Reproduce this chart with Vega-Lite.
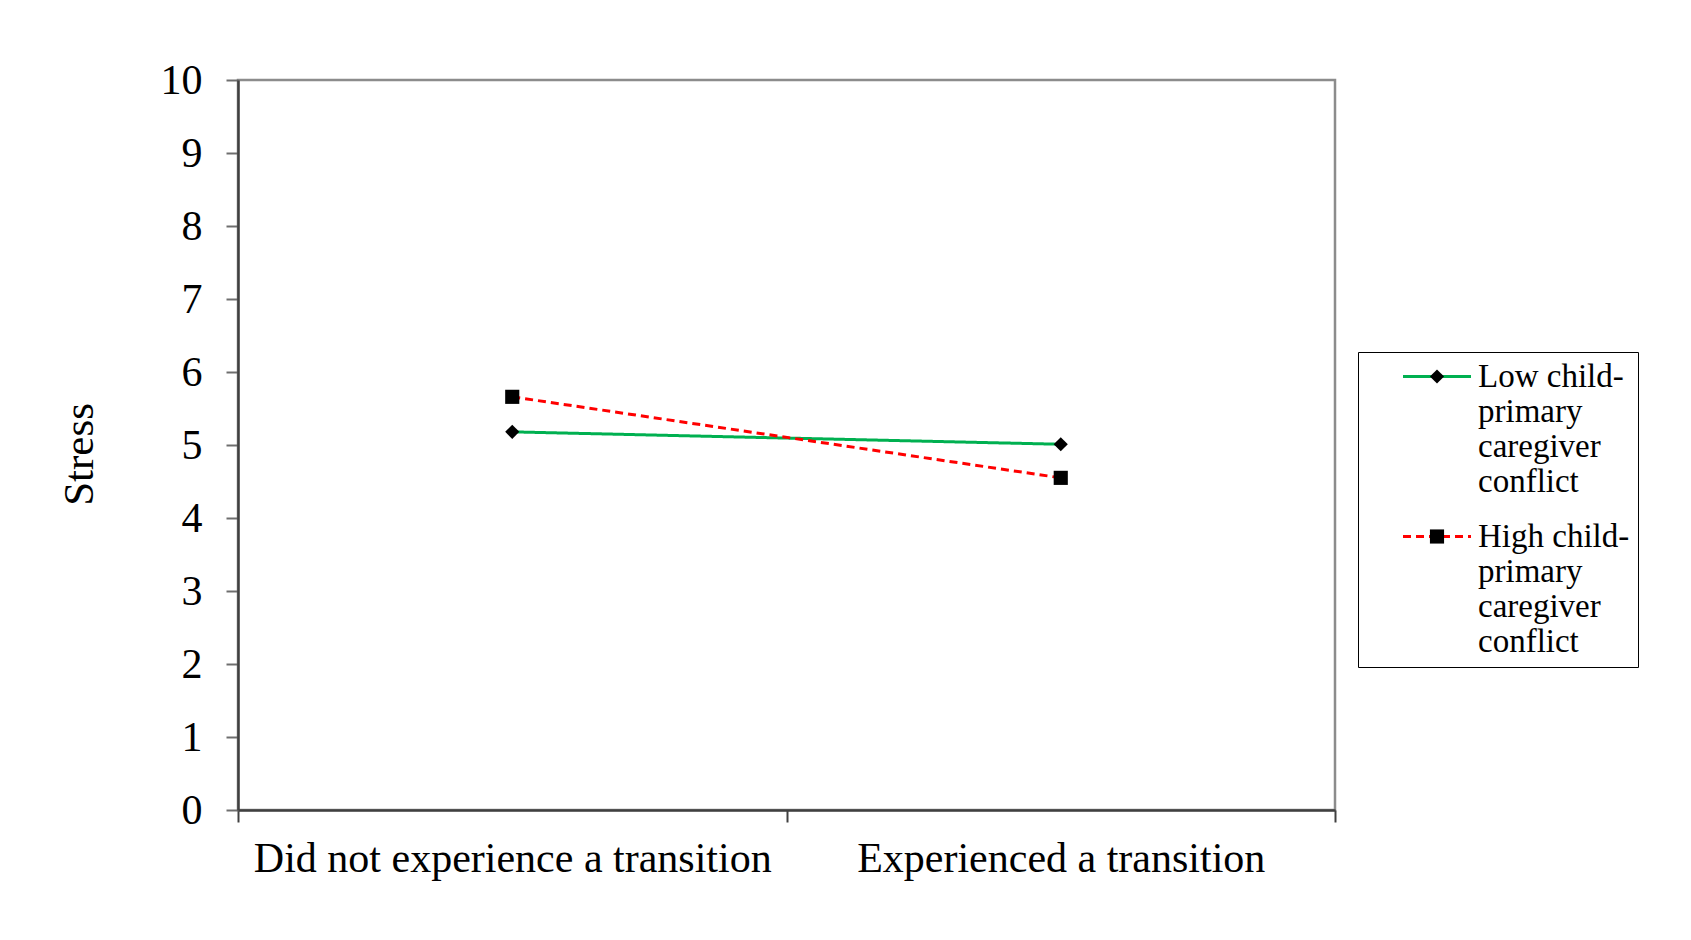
{
  "$schema": "https://vega.github.io/schema/vega-lite/v6.json",
  "width": 1097,
  "height": 730,
  "autosize": {"type": "none"},
  "padding": {"left": 238, "top": 80, "right": 356, "bottom": 130},
  "background": "white",
  "config": {
    "font": "Times New Roman, Liberation Serif, serif",
    "view": {"stroke": "#8c8c8c", "strokeWidth": 2.5}
  },
  "data": {
    "values": [
      {"transition": "Did not experience a transition", "conflict": "Low child-primary caregiver conflict", "stress": 5.18},
      {"transition": "Experienced a transition", "conflict": "Low child-primary caregiver conflict", "stress": 5.01},
      {"transition": "Did not experience a transition", "conflict": "High child-primary caregiver conflict", "stress": 5.66},
      {"transition": "Experienced a transition", "conflict": "High child-primary caregiver conflict", "stress": 4.55}
    ]
  },
  "encoding": {
    "x": {
      "field": "transition",
      "type": "nominal",
      "sort": null,
      "scale": {"type": "band", "paddingInner": 0, "paddingOuter": 0},
      "axis": {
        "title": null,
        "labelAngle": 0,
        "tickBand": "extent",
        "tickSize": 12,
        "tickWidth": 2,
        "tickColor": "#404040",
        "domainColor": "#404040",
        "domainWidth": 2.5,
        "labelFont": "Times New Roman, Liberation Serif, serif",
        "labelFontSize": 42,
        "labelColor": "black",
        "labelPadding": 16,
        "labelLimit": 0
      }
    },
    "y": {
      "field": "stress",
      "type": "quantitative",
      "scale": {"domain": [0, 10], "nice": false},
      "axis": {
        "values": [0, 1, 2, 3, 4, 5, 6, 7, 8, 9, 10],
        "grid": false,
        "tickSize": 12,
        "tickWidth": 2,
        "tickColor": "#6e6e6e",
        "domainColor": "#404040",
        "domainWidth": 2.5,
        "labelFont": "Times New Roman, Liberation Serif, serif",
        "labelFontSize": 42,
        "labelColor": "black",
        "labelPadding": 24,
        "title": "Stress",
        "titleFont": "Times New Roman, Liberation Serif, serif",
        "titleFontSize": 43,
        "titleFontWeight": "normal",
        "titleColor": "black",
        "titlePadding": 59,
        "titleY": 374
      }
    }
  },
  "layer": [
    {
      "mark": {"type": "line", "strokeWidth": 3},
      "encoding": {
        "color": {
          "field": "conflict",
          "type": "nominal",
          "scale": {
            "domain": ["Low child-primary caregiver conflict", "High child-primary caregiver conflict"],
            "range": ["#00b050", "#ff0000"]
          },
          "legend": {
            "orient": "none",
            "legendX": 1120,
            "legendY": 272,
            "title": null,
            "symbolType": "M-4,0H4",
            "symbolSize": 289,
            "symbolStrokeWidth": 3,
            "symbolOffset": 54.5,
            "labelFont": "Times New Roman, Liberation Serif, serif",
            "labelFontSize": 33,
            "labelColor": "black",
            "labelLimit": 0,
            "labelOffset": 24.5,
            "labelExpr": "datum.label == 'Low child-primary caregiver conflict' ? ['Low child-', 'primary', 'caregiver', 'conflict'] : ['High child-\u00a0\u00a0\u00a0\u00a0', 'primary', 'caregiver', 'conflict']",
            "strokeColor": "black",
            "padding": 8,
            "rowPadding": 21
          }
        },
        "strokeDash": {
          "field": "conflict",
          "type": "nominal",
          "scale": {
            "domain": ["Low child-primary caregiver conflict", "High child-primary caregiver conflict"],
            "range": [[1, 0], [8, 5]]
          },
          "legend": {
            "orient": "none",
            "legendX": 1120,
            "legendY": 272,
            "title": null
          }
        }
      }
    },
    {
      "mark": {"type": "point", "filled": true, "opacity": 1, "color": "black", "size": 200},
      "encoding": {
        "shape": {
          "field": "conflict",
          "type": "nominal",
          "sort": ["Low child-primary caregiver conflict", "High child-primary caregiver conflict"],
          "scale": {"range": ["diamond", "square"]},
          "legend": {
            "orient": "none",
            "legendX": 1120,
            "legendY": 272,
            "title": null,
            "symbolSize": 200,
            "symbolFillColor": "black",
            "symbolStrokeColor": "black",
            "symbolStrokeWidth": 0,
            "symbolOpacity": 1,
            "symbolOffset": 54.5,
            "labelFont": "Times New Roman, Liberation Serif, serif",
            "labelFontSize": 33,
            "labelOpacity": 0,
            "labelLimit": 0,
            "labelOffset": 24.5,
            "labelExpr": "datum.label == 'Low child-primary caregiver conflict' ? ['Low child-', 'primary', 'caregiver', 'conflict'] : ['High child-', 'primary', 'caregiver', 'conflict']",
            "padding": 8,
            "rowPadding": 21
          }
        }
      }
    }
  ]
}
